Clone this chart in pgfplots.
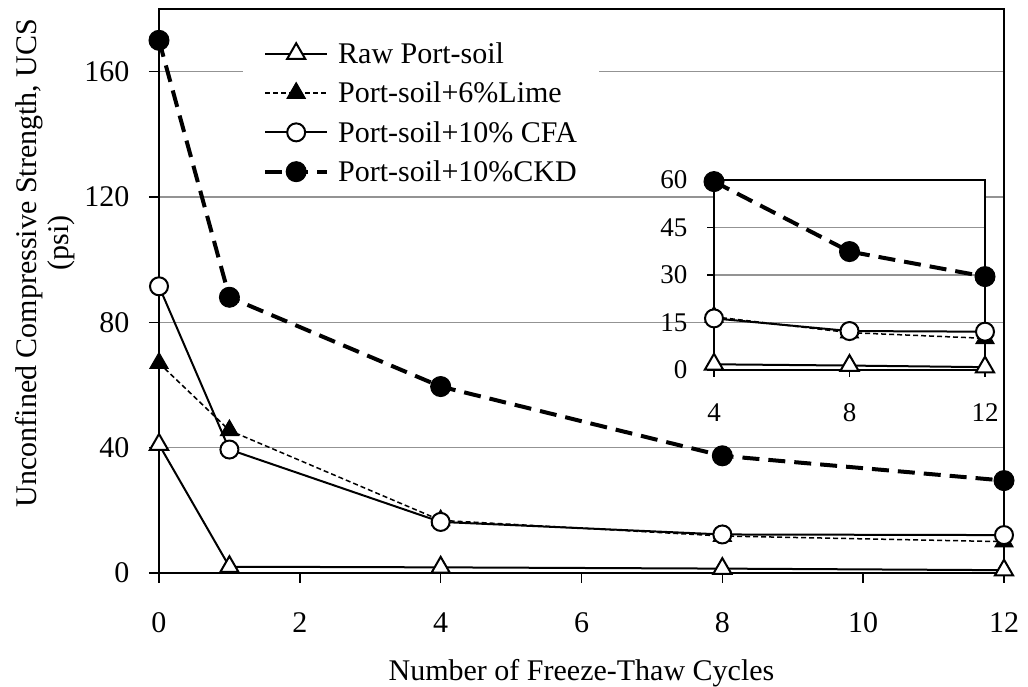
\documentclass[border=0pt]{standalone}
\usepackage{fontspec}
\setmainfont{Liberation Serif}
\usepackage{pgfplots}
\usepackage{pgfplotstable}
\pgfplotsset{compat=1.18}

\pgfplotstableread{
x raw lime cfa ckd
0 41 67 91.5 170
1 2 45.5 39.4 88
4 1.8 16.8 16.3 59.5
8 1.4 11.8 12.3 37.4
12 0.9 10 12.1 29.5
}\maindata

\pgfplotsset{
  rawstyle/.style={black, line width=2pt, mark=triangle*, mark size=10.5pt, mark options={solid, fill=white, draw=black, line width=2pt}},
  limestyle/.style={black, line width=1.5pt, dash pattern=on 5pt off 3pt, mark=triangle*, mark size=10.5pt, mark options={solid, fill=black, line width=1pt}},
  cfastyle/.style={black, line width=2pt, mark=*, mark size=9pt, mark options={solid, fill=white, draw=black, line width=2pt}},
  ckdstyle/.style={black, line width=4pt, dash pattern=on 17pt off 9pt, mark=*, mark size=10pt, mark options={solid, fill=black, line width=1pt}},
}

\begin{document}
\begin{tikzpicture}
\begin{axis}[
  name=main, at={(0pt,0pt)}, anchor=south west,
  scale only axis, width=845pt, height=564pt,
  xmin=0, xmax=12, ymin=0, ymax=180,
  xtick={0,2,...,12}, ytick={0,40,...,160},
  tick align=outside, xtick pos=lower, ytick pos=left,
  major tick length=10pt,
  tick style={black, line width=1.5pt},
  axis line style={black, line width=2pt},
  ymajorgrids, grid style={gray!85, line width=1.5pt},
  clip=false,
  /pgf/number format/assume math mode=true,
  ticklabel style={font=\fontsize{30}{34}\selectfont},
  xticklabel style={yshift=-26pt},
  yticklabel style={xshift=-16pt},
  xlabel={Number of Freeze-Thaw Cycles},
  ylabel={Unconfined Compressive Strength, UCS\hspace*{40pt}\\(psi)},
  xlabel style={font=\fontsize{30}{34}\selectfont, at={(axis description cs:0.5,-0.177)}, anchor=center},
  ylabel style={font=\fontsize{30}{32}\selectfont, align=center, at={(axis description cs:-0.135,0.585)}, anchor=center},
  legend style={at={(0.0994,0.955)}, anchor=north west, draw=none, fill=white,
    font=\fontsize{30}{34}\selectfont, row sep=13pt, column sep=7pt, inner xsep=20pt, inner ysep=6pt},
  legend cell align=left,
  legend image code/.code={\draw[mark repeat=2,mark phase=2] plot coordinates {(0pt,0pt)(31pt,0pt)(62pt,0pt)};},
]
\addplot[rawstyle] table[x=x,y=raw] {\maindata};
\addlegendentry{Raw Port-soil}
\addplot[limestyle] table[x=x,y=lime] {\maindata};
\addlegendentry{Port-soil+6\%Lime}
\addplot[cfastyle] table[x=x,y=cfa] {\maindata};
\addlegendentry{Port-soil+10\% CFA}
\addplot[ckdstyle] table[x=x,y=ckd] {\maindata};
\addlegendentry{Port-soil+10\%CKD}
\end{axis}

\begin{axis}[
  at={(555pt,203pt)}, anchor=south west,
  scale only axis, width=271pt, height=190pt,
  xmin=4, xmax=12, ymin=0, ymax=60,
  xtick={4,8,12}, ytick={0,15,...,60},
  tick align=outside, xtick pos=lower, ytick pos=left,
  major tick length=7pt,
  tick style={black, line width=1.5pt},
  axis line style={black, line width=2pt},
  ymajorgrids, grid style={gray!85, line width=1.5pt},
  axis background/.style={fill=white},
  clip=false,
  /pgf/number format/assume math mode=true,
  ticklabel style={font=\fontsize{27}{30}\selectfont},
  xticklabel style={yshift=-23pt},
  yticklabel style={xshift=-16pt},
]
\addplot[rawstyle, restrict x to domain=4:12] table[x=x,y=raw] {\maindata};
\addplot[limestyle, restrict x to domain=4:12] table[x=x,y=lime] {\maindata};
\addplot[cfastyle, restrict x to domain=4:12] table[x=x,y=cfa] {\maindata};
\addplot[ckdstyle, restrict x to domain=4:12] table[x=x,y=ckd] {\maindata};
\end{axis}
\pgfresetboundingbox
\path (-159pt,-114pt) rectangle (869pt,573pt);
\end{tikzpicture}
\end{document}
